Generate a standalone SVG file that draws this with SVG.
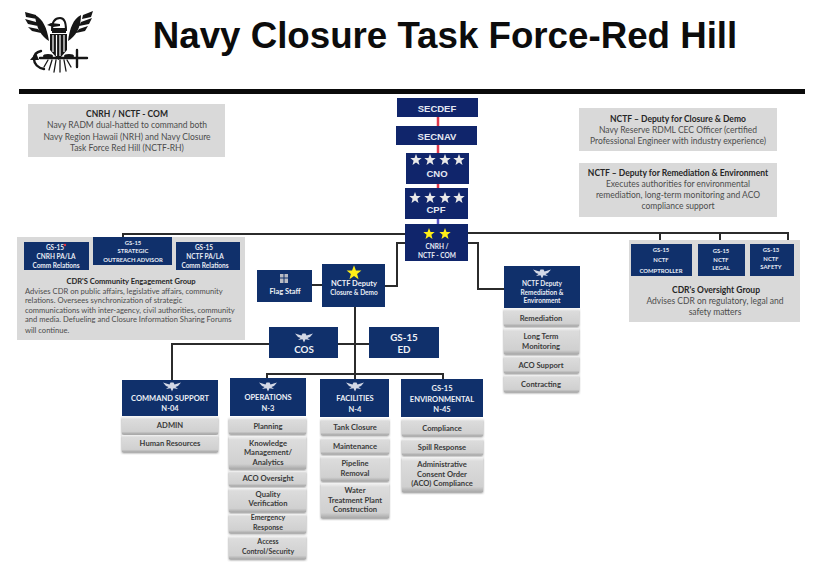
<svg xmlns="http://www.w3.org/2000/svg" width="820" height="581" viewBox="0 0 820 581">
<style>
text{font-family:"Lato","Open Sans","Liberation Sans",sans-serif;text-anchor:middle}
.nv{fill:#10256b}
.nb{fill:#10306b}
.w{fill:#eef0f6;font-weight:700;font-size:7.5px}
.ws{fill:#e8ecf4;font-weight:700;font-size:6.5px}
.wn{fill:#e8ecf4;font-weight:700;font-size:5.900px}
.wb{fill:#e4e8f2;font-family:"Liberation Sans",sans-serif;font-weight:700;font-size:9.500px}
.wl{fill:#eef0f6;font-weight:700;font-size:9.800px}
.g{fill:#d9d9d9}
.t{fill:#4c4c4c;font-size:8.500px}
.tb{fill:#262626;font-size:8.500px;font-weight:700}
.tc{fill:#262626;font-size:7.600px;font-weight:700}
.tl{fill:#4c4c4c;font-size:7.600px;text-anchor:start}
.i{fill:#3a3a3a;font-size:7.600px;font-weight:700}
.ia{fill:#3a3a3a;font-size:7px;font-weight:700}
.it{fill:url(#bev);filter:url(#sh)}
.c{fill:none;stroke:#2b2b2b;stroke-width:2}
.st{fill:#e9e9e9}
.sy{fill:#ffef17}
.e{fill:#d3d8e6}
.lg{fill:#161616}
.ll{fill:none;stroke:#161616;stroke-linecap:round}
</style>
<defs>
<linearGradient id="bev" x1="0" y1="0" x2="0" y2="1"><stop offset="0" stop-color="#f4f4f4"/><stop offset=".12" stop-color="#dcdcdc"/><stop offset=".85" stop-color="#d0d0d0"/><stop offset="1" stop-color="#a9a9a9"/></linearGradient>
<filter id="sh" x="-10%" y="-10%" width="120%" height="130%"><feDropShadow dx="0" dy="1" stdDeviation="0.8" flood-color="#555" flood-opacity=".7"/></filter>
<path id="star" d="M0-6 1.5-1.9 5.7-1.9 2.4.7 3.5 4.9 0 2.4-3.5 4.9-2.4.7-5.7-1.9-1.5-1.9Z"/>
<path id="eg" d="M-9-4.500-2.500-2.500-1.500-4.500 1.500-4.500 2.500-2.500 9-4.500 6-1 3.500 0 6 2 1.500 1.200 0 4.500-1.500 1.200-6 2-3.500 0-6-1Z"/>
</defs>
<rect width="820" height="581" fill="#fff"/>

<g id="logo">
<path class="lg" d="M25 12 36 15 37 19 26 17ZM25 19 36 22 38 26 28 24ZM28 27 38 29 41 33 32 31ZM35 15C43 19 47 28 49 41 42 37 36 28 35 15Z"/>
<path class="lg" d="M93 11 83 15 82 19 91 17ZM92 18 81 22 79 26 89 24ZM88 26 79 29 76 33 85 31ZM81 15C73 19 70 28 68 41 75 37 81 28 81 15Z"/>
<path d="M52 30C52 22 55 18 60 18 64 18 66 23 66 30Z" fill="#fff" stroke="#161616" stroke-width="2"/>
<path class="lg" d="M51 23 47 25 53 27 60 26 60 24ZM52 28H66V33H52Z"/>
<path class="lg" d="M50 34H67V50L58.500 60 50 50Z"/>
<path d="M53 35V52M56.500 35V56M60 35V56M64 35V52" stroke="#fff" stroke-width="1.200" fill="none"/>
<path class="ll" stroke-width="2.400" d="M41 51C36 52 34 55 34 59 34 64 38 68 44 69M40 58H87M77 50V67"/>
<path class="lg" d="M30 60 36 53 39 60Z"/>
<path class="ll" stroke-width="1.300" d="M48 60 44 67M52 60 49 70M56 60 54 72M60 60 60 72M64 60 66 71M67 60 71 67"/>
<ellipse class="lg" cx="48" cy="56" rx="5" ry="2"/><ellipse class="lg" cx="69" cy="56" rx="5" ry="2"/>
</g>
<text x="445" y="48" style="font-family:'Liberation Sans',sans-serif;font-weight:700;font-size:36.700px" fill="#0c0c0c">Navy Closure Task Force-Red Hill</text>
<rect x="19" y="89" width="786" height="5" fill="#0a0a0a"/>

<g id="connectors">
<path d="M438 117V126M438 145V153M438 184V188" stroke="#e0394c" stroke-width="2.500" fill="none"/>
<path d="M438 219V224" stroke="#5a55c8" stroke-width="2.500" fill="none"/>
<path class="c" d="M123 238V234H405M468 233H788V244M660 233V244M720 233V244"/>
<path class="c" d="M405 243H397V286H385M468 243H478V289H504"/>
<path class="c" d="M312 285H322M355 307V379M338 344H369M269 344H172V380M267 379V374H443V379"/>
</g>

<g id="note-cnrh"><rect class="g" x="28" y="104" width="197" height="53"/>
<text class="tb" x="127" y="117">CNRH / NCTF - COM</text><text class="t" x="127" y="128">Navy RADM dual-hatted to command both</text><text class="t" x="127" y="140">Navy Region Hawaii (NRH) and Navy Closure</text><text class="t" x="127" y="151">Task Force Red Hill (NCTF-RH)</text></g>

<g id="note-closure"><rect class="g" x="579" y="108" width="198" height="43"/>
<text class="tb" x="678" y="122">NCTF – Deputy for Closure &amp; Demo</text><text class="t" x="678" y="133">Navy Reserve RDML CEC Officer (certified</text><text class="t" x="678" y="144">Professional Engineer with industry experience)</text></g>

<g id="note-remediation"><rect class="g" x="579" y="163" width="198" height="54"/>
<text class="tb" x="678" y="176">NCTF – Deputy for Remediation &amp; Environment</text><text class="t" x="678" y="187">Executes authorities for environmental</text><text class="t" x="678" y="198">remediation, long-term monitoring and ACO</text><text class="t" x="678" y="209">compliance support</text></g>

<g id="secdef"><rect class="nv" x="397" y="98" width="81" height="19"/><text class="wb" x="437" y="112">SECDEF</text></g>
<g id="secnav"><rect class="nv" x="396" y="126" width="81" height="19"/><text class="wb" x="437" y="140">SECNAV</text></g>
<g id="cno"><rect class="nv" x="406" y="153" width="63" height="31"/>
<use href="#star" class="st" x="416" y="160"/><use href="#star" class="st" x="430" y="160"/><use href="#star" class="st" x="445" y="160"/><use href="#star" class="st" x="459" y="160"/>
<text class="wb" x="437" y="177">CNO</text></g>
<g id="cpf"><rect class="nv" x="405" y="188" width="63" height="31"/>
<use href="#star" class="st" x="415" y="198"/><use href="#star" class="st" x="430" y="198"/><use href="#star" class="st" x="445" y="198"/><use href="#star" class="st" x="459" y="198"/>
<text class="wb" x="436" y="213">CPF</text></g>
<g id="cnrh"><rect class="nv" x="405" y="224" width="63" height="37"/>
<use href="#star" class="sy" x="429" y="234"/><use href="#star" class="sy" x="445" y="234"/>
<text class="ws" x="437" y="249">CNRH /</text><text class="ws" x="437" y="258">NCTF - COM</text></g>

<g id="community-group"><rect class="g" x="17" y="237" width="228" height="103"/>
<text class="tc" x="131" y="284">CDR'S Community Engagement Group</text>
<text class="tl" x="25" y="294">Advises CDR on public affairs, legislative affairs, community</text>
<text class="tl" x="25" y="303">relations.  Oversees synchronization of strategic</text>
<text class="tl" x="25" y="313">communications with inter-agency, civil authorities, community</text>
<text class="tl" x="25" y="322">and media. Defueling and Closure Information Sharing Forums</text>
<text class="tl" x="25" y="333">will continue.</text></g>
<g id="gs-cnrh-pa"><rect class="nb" x="24" y="242" width="65" height="28"/><text class="ws" x="55" y="250">GS-15</text><text class="ws" x="56" y="259">CNRH PA/LA</text><text class="ws" x="56" y="268">Comm Relations</text><circle cx="65" cy="245" r="1.200" fill="#e23340"/></g>
<g id="gs-outreach"><rect class="nb" x="93" y="237" width="79" height="28"/><text class="wn" x="133" y="245">GS-15</text><text class="wn" x="133" y="253">STRATEGIC</text><text class="wn" x="133" y="262">OUTREACH ADVISOR</text></g>
<g id="gs-nctf-pa"><rect class="nb" x="176" y="242" width="64" height="28"/><text class="ws" x="204" y="250">GS-15</text><text class="ws" x="205" y="259">NCTF PA/LA</text><text class="ws" x="205" y="268">Comm Relations</text></g>

<g id="oversight-group"><rect class="g" x="629" y="240" width="171" height="82"/>
<text class="tb" x="716" y="293">CDR's Oversight Group</text><text class="t" x="715" y="304">Advises CDR on regulatory, legal and</text><text class="t" x="715" y="315">safety matters</text></g>
<g id="gs-comptroller"><rect class="nb" x="631" y="244" width="61" height="32"/><text class="wn" x="661" y="252">GS-15</text><text class="wn" x="661" y="262">NCTF</text><text class="wn" x="661" y="273">COMPTROLLER</text></g>
<g id="gs-legal"><rect class="nb" x="698" y="244" width="47" height="32"/><text class="wn" x="721" y="253">GS-15</text><text class="wn" x="721" y="262">NCTF</text><text class="wn" x="721" y="270">LEGAL</text></g>
<g id="gs-safety"><rect class="nb" x="750" y="244" width="44" height="32"/><text class="wn" x="771" y="252">GS-13</text><text class="wn" x="771" y="261">NCTF</text><text class="wn" x="771" y="269">SAFETY</text></g>

<g id="flag-staff"><rect class="nb" x="257" y="270" width="55" height="32"/><rect x="280" y="274" width="8" height="9" fill="#b9bcc4"/><path d="M284 274V283M280 278H288" stroke="#10306b"/><text class="w" x="285" y="294">Flag Staff</text></g>
<g id="deputy-closure"><rect class="nb" x="322" y="264" width="63" height="43"/><use href="#star" class="sy" transform="translate(354 273) scale(1.300)"/><text class="w" x="354" y="286">NCTF Deputy</text><text class="ws" x="354" y="295">Closure &amp; Demo</text></g>
<g id="cos"><rect class="nb" x="269" y="327" width="69" height="31"/><use href="#eg" class="e" x="304" y="338"/><text class="wl" x="304" y="353">COS</text></g>
<g id="ed"><rect class="nb" x="369" y="327" width="70" height="31"/><text class="wl" x="404" y="341">GS-15</text><text class="wl" x="404" y="353">ED</text></g>

<g id="deputy-remediation"><rect class="nb" x="504" y="266" width="76" height="42"/><use href="#eg" class="e" x="542" y="274"/><text class="ws" x="542" y="286">NCTF Deputy</text><text class="ws" x="542" y="295">Remediation &amp;</text><text class="ws" x="542" y="303">Environment</text></g>
<g id="remediation"><rect class="it" x="504" y="309" width="75" height="17"/><text class="i" x="541" y="321">Remediation</text></g>
<g id="long-term"><rect class="it" x="504" y="328" width="75" height="26"/><text class="i" x="541" y="339">Long Term</text><text class="i" x="541" y="349">Monitoring</text></g>
<g id="aco-support"><rect class="it" x="504" y="356" width="75" height="17"/><text class="i" x="541" y="368">ACO Support</text></g>
<g id="contracting"><rect class="it" x="504" y="375" width="75" height="17"/><text class="i" x="541" y="387">Contracting</text></g>

<g id="command-support"><rect class="nb" x="122" y="380" width="96" height="36"/><use href="#eg" class="e" x="172" y="387"/><text class="w" x="170" y="401">COMMAND SUPPORT</text><text class="w" x="170" y="411">N-04</text></g>
<g id="admin"><rect class="it" x="122" y="417" width="96" height="17"/><text class="i" x="170" y="428">ADMIN</text></g>
<g id="hr"><rect class="it" x="122" y="435" width="96" height="17"/><text class="i" x="170" y="446">Human Resources</text></g>

<g id="operations"><rect class="nb" x="230" y="378" width="76" height="38"/><use href="#eg" class="e" x="268" y="387"/><text class="w" x="268" y="400">OPERATIONS</text><text class="w" x="268" y="411">N-3</text></g>
<g id="planning"><rect class="it" x="229" y="418" width="77" height="16"/><text class="i" x="268" y="429">Planning</text></g>
<g id="knowledge"><rect class="it" x="229" y="436" width="77" height="33"/><text class="i" x="268" y="446">Knowledge</text><text class="i" x="268" y="455">Management/</text><text class="i" x="268" y="465">Analytics</text></g>
<g id="aco-oversight"><rect class="it" x="229" y="471" width="77" height="15"/><text class="i" x="268" y="481">ACO  Oversight</text></g>
<g id="quality"><rect class="it" x="229" y="488" width="77" height="24"/><text class="i" x="268" y="497">Quality</text><text class="i" x="268" y="506">Verification</text></g>
<g id="emergency"><rect class="it" x="229" y="514" width="77" height="19"/><text class="ia" x="268" y="520">Emergency</text><text class="ia" x="268" y="529.500">Response</text></g>
<g id="access"><rect class="it" x="229" y="536" width="77" height="23"/><text class="ia" x="268" y="544">Access</text><text class="ia" x="268" y="554">Control/Security</text></g>

<g id="facilities"><rect class="nb" x="320" y="379" width="69" height="38"/><use href="#eg" class="e" x="355" y="387"/><text class="w" x="355" y="401">FACILITIES</text><text class="w" x="355" y="412">N-4</text></g>
<g id="tank"><rect class="it" x="321" y="419" width="68" height="16"/><text class="i" x="355" y="430">Tank Closure</text></g>
<g id="maintenance"><rect class="it" x="321" y="438" width="68" height="16"/><text class="i" x="355" y="449">Maintenance</text></g>
<g id="pipeline"><rect class="it" x="321" y="456" width="68" height="25"/><text class="i" x="355" y="466">Pipeline</text><text class="i" x="355" y="476">Removal</text></g>
<g id="water"><rect class="it" x="321" y="483" width="68" height="35"/><text class="i" x="355" y="493">Water</text><text class="i" x="355" y="503">Treatment Plant</text><text class="i" x="355" y="512">Construction</text></g>

<g id="environmental"><rect class="nb" x="401" y="379" width="82" height="38"/><text class="w" x="442" y="391">GS-15</text><text class="w" x="442" y="402">ENVIRONMENTAL</text><text class="w" x="442" y="412">N-45</text></g>
<g id="compliance"><rect class="it" x="402" y="419" width="81" height="17"/><text class="i" x="442" y="431">Compliance</text></g>
<g id="spill"><rect class="it" x="402" y="439" width="81" height="16"/><text class="i" x="442" y="450">Spill Response</text></g>
<g id="admin-consent"><rect class="it" x="402" y="457" width="81" height="35"/><text class="i" x="442" y="467">Administrative</text><text class="i" x="442" y="477">Consent Order</text><text class="i" x="442" y="486">(ACO) Compliance</text></g>
</svg>
